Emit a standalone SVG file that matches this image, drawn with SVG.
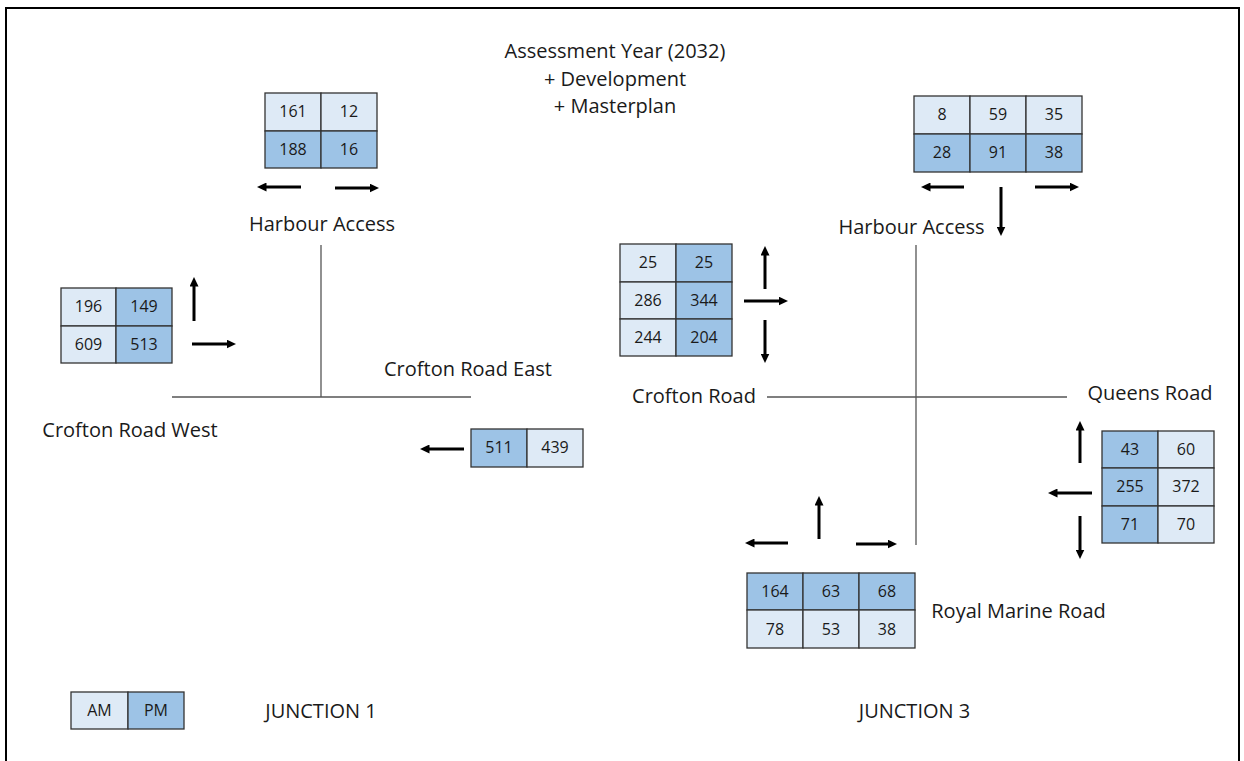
<svg xmlns="http://www.w3.org/2000/svg" width="1244" height="761" viewBox="0 0 1244 761">
<style>
text{font-family:"Open Sans","Liberation Sans",sans-serif;fill:#1a1a1a}
.lbl{font-size:20px}
.num{font-size:16px;text-anchor:middle}
.lt{fill:#DEEAF6;stroke:#333;stroke-width:1.3}
.dk{fill:#9DC3E6;stroke:#333;stroke-width:1.3}
.road{stroke:#555;stroke-width:1.3;fill:none}
.arr{stroke:#000;stroke-width:3;fill:none;marker-end:url(#ah)}
</style>
<defs>
<marker id="ah" markerUnits="userSpaceOnUse" markerWidth="10" markerHeight="9" refX="0.5" refY="4.5" orient="auto">
<path d="M0,0 L9.5,4.5 L0,9 z" fill="#000"/>
</marker>
</defs>
<rect x="0" y="0" width="1244" height="761" fill="#fff"/>
<rect x="6" y="8" width="1233" height="770" fill="none" stroke="#000" stroke-width="2"/>

<g id="title">
<text class="lbl" x="615" y="58" text-anchor="middle">Assessment Year (2032)</text>
<text class="lbl" x="615" y="86" text-anchor="middle">+ Development</text>
<text class="lbl" x="615" y="113" text-anchor="middle">+ Masterplan</text>
</g>

<g id="roads">
<line class="road" x1="321" y1="245" x2="321" y2="397"/>
<line class="road" x1="172" y1="397" x2="471" y2="397"/>
<line class="road" x1="916" y1="245" x2="916" y2="545"/>
<line class="road" x1="767" y1="397" x2="1067" y2="397"/>
</g>

<g id="connectors">
<line class="arr" x1="301" y1="187" x2="266" y2="187"/>
<line class="arr" x1="335" y1="188" x2="370" y2="188"/>
<line class="arr" x1="194" y1="321" x2="194" y2="286"/>
<line class="arr" x1="192" y1="344" x2="227" y2="344"/>
<line class="arr" x1="464" y1="449" x2="429" y2="449"/>
<line class="arr" x1="964" y1="187" x2="930" y2="187"/>
<line class="arr" x1="1001" y1="187" x2="1001" y2="227"/>
<line class="arr" x1="1035" y1="187" x2="1070" y2="187"/>
<line class="arr" x1="765" y1="289" x2="765" y2="255"/>
<line class="arr" x1="744" y1="301" x2="779" y2="301"/>
<line class="arr" x1="765" y1="320" x2="765" y2="354"/>
<line class="arr" x1="1080" y1="463" x2="1080" y2="430"/>
<line class="arr" x1="1092" y1="493" x2="1057" y2="493"/>
<line class="arr" x1="1080" y1="516" x2="1080" y2="550"/>
<line class="arr" x1="788" y1="543" x2="754" y2="543"/>
<line class="arr" x1="819" y1="539" x2="819" y2="505"/>
<line class="arr" x1="856" y1="544" x2="888" y2="544"/>
</g>

<g id="j1-harbour-table">
<rect class="lt" x="265" y="93" width="56" height="38"/>
<rect class="lt" x="321" y="93" width="56" height="38"/>
<rect class="dk" x="265" y="131" width="56" height="37"/>
<rect class="dk" x="321" y="131" width="56" height="37"/>
<text class="num" x="293" y="117">161</text>
<text class="num" x="349" y="117">12</text>
<text class="num" x="293" y="155">188</text>
<text class="num" x="349" y="155">16</text>
</g>
<g id="j1-harbour-label"><text class="lbl" x="322" y="231" text-anchor="middle">Harbour Access</text></g>

<g id="j1-west-table">
<rect class="lt" x="61" y="288" width="55" height="38"/>
<rect class="dk" x="116" y="288" width="56" height="38"/>
<rect class="lt" x="61" y="326" width="55" height="37"/>
<rect class="dk" x="116" y="326" width="56" height="37"/>
<text class="num" x="88.5" y="312">196</text>
<text class="num" x="144" y="312">149</text>
<text class="num" x="88.5" y="350">609</text>
<text class="num" x="144" y="350">513</text>
</g>
<g id="j1-west-label"><text class="lbl" x="130" y="437" text-anchor="middle">Crofton Road West</text></g>
<g id="j1-east-label"><text class="lbl" x="468" y="376" text-anchor="middle">Crofton Road East</text></g>

<g id="j1-east-table">
<rect class="dk" x="471" y="429" width="56" height="38"/>
<rect class="lt" x="527" y="429" width="56" height="38"/>
<text class="num" x="499" y="453">511</text>
<text class="num" x="555" y="453">439</text>
</g>

<g id="j3-harbour-table">
<rect class="lt" x="914" y="96" width="56" height="38"/>
<rect class="lt" x="970" y="96" width="56" height="38"/>
<rect class="lt" x="1026" y="96" width="56" height="38"/>
<rect class="dk" x="914" y="134" width="56" height="38"/>
<rect class="dk" x="970" y="134" width="56" height="38"/>
<rect class="dk" x="1026" y="134" width="56" height="38"/>
<text class="num" x="942" y="120">8</text>
<text class="num" x="998" y="120">59</text>
<text class="num" x="1054" y="120">35</text>
<text class="num" x="942" y="158">28</text>
<text class="num" x="998" y="158">91</text>
<text class="num" x="1054" y="158">38</text>
</g>
<g id="j3-harbour-label"><text class="lbl" x="911.5" y="234" text-anchor="middle">Harbour Access</text></g>

<g id="j3-crofton-table">
<rect class="lt" x="620" y="244" width="56" height="38"/>
<rect class="dk" x="676" y="244" width="56" height="38"/>
<rect class="lt" x="620" y="282" width="56" height="37"/>
<rect class="dk" x="676" y="282" width="56" height="37"/>
<rect class="lt" x="620" y="319" width="56" height="37"/>
<rect class="dk" x="676" y="319" width="56" height="37"/>
<text class="num" x="648" y="268">25</text>
<text class="num" x="704" y="268">25</text>
<text class="num" x="648" y="306">286</text>
<text class="num" x="704" y="306">344</text>
<text class="num" x="648" y="343">244</text>
<text class="num" x="704" y="343">204</text>
</g>
<g id="j3-crofton-label"><text class="lbl" x="694" y="403" text-anchor="middle">Crofton Road</text></g>

<g id="j3-queens-label"><text class="lbl" x="1150" y="400" text-anchor="middle">Queens Road</text></g>
<g id="j3-queens-table">
<rect class="dk" x="1102" y="431" width="56" height="37"/>
<rect class="lt" x="1158" y="431" width="56" height="37"/>
<rect class="dk" x="1102" y="468" width="56" height="38"/>
<rect class="lt" x="1158" y="468" width="56" height="38"/>
<rect class="dk" x="1102" y="506" width="56" height="37"/>
<rect class="lt" x="1158" y="506" width="56" height="37"/>
<text class="num" x="1130" y="455">43</text>
<text class="num" x="1186" y="455">60</text>
<text class="num" x="1130" y="492">255</text>
<text class="num" x="1186" y="492">372</text>
<text class="num" x="1130" y="530">71</text>
<text class="num" x="1186" y="530">70</text>
</g>

<g id="j3-royal-table">
<rect class="dk" x="747" y="573" width="56" height="37"/>
<rect class="dk" x="803" y="573" width="56" height="37"/>
<rect class="dk" x="859" y="573" width="56" height="37"/>
<rect class="lt" x="747" y="610" width="56" height="38"/>
<rect class="lt" x="803" y="610" width="56" height="38"/>
<rect class="lt" x="859" y="610" width="56" height="38"/>
<text class="num" x="775" y="597">164</text>
<text class="num" x="831" y="597">63</text>
<text class="num" x="887" y="597">68</text>
<text class="num" x="775" y="635">78</text>
<text class="num" x="831" y="635">53</text>
<text class="num" x="887" y="635">38</text>
</g>
<g id="j3-royal-label"><text class="lbl" x="1018.5" y="618" text-anchor="middle">Royal Marine Road</text></g>

<g id="legend">
<rect class="lt" x="71" y="692" width="57" height="37"/>
<rect class="dk" x="128" y="692" width="56" height="37"/>
<text class="num" x="99.5" y="716">AM</text>
<text class="num" x="156" y="716">PM</text>
</g>
<g id="junction1-label"><text class="lbl" x="321" y="718" text-anchor="middle">JUNCTION 1</text></g>
<g id="junction3-label"><text class="lbl" x="914.5" y="718" text-anchor="middle">JUNCTION 3</text></g>
</svg>
